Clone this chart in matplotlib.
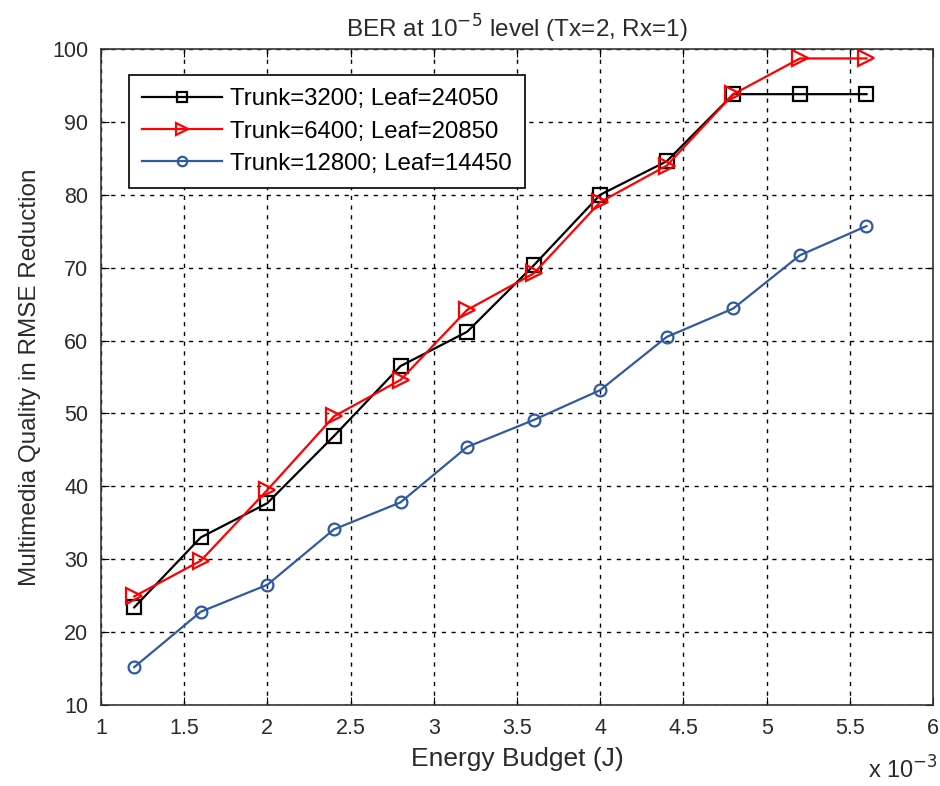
import matplotlib.pyplot as plt

plt.rcParams['font.family'] = ['Liberation Sans', 'DejaVu Sans']

# energy budget in units of 1e-3 J
energy = [1.2, 1.6, 2.0, 2.4, 2.8, 3.2, 3.6, 4.0, 4.4, 4.8, 5.2, 5.6]
trunk_3200 = [23.4, 33.0, 37.7, 46.9, 56.5, 61.2, 70.3, 80.0, 84.6, 93.8, 93.8, 93.8]
trunk_6400 = [24.9, 29.8, 39.5, 49.6, 54.6, 64.2, 69.2, 79.0, 84.0, 93.8, 98.7, 98.7]
trunk_12800 = [15.2, 22.8, 26.5, 34.1, 37.8, 45.4, 49.1, 53.2, 60.5, 64.4, 71.7, 75.7]
labels = ['Trunk=3200; Leaf=24050', 'Trunk=6400; Leaf=20850', 'Trunk=12800; Leaf=14450']

txt = '#2a2a2a'

fig = plt.figure(figsize=(9.4, 7.86), dpi=100)
ax = fig.add_axes([0.1074, 0.103, 0.8852, 0.8347])

ax.plot(energy, trunk_3200, color='black', lw=1.6, marker='s', ms=9.5,
        mfc='none', mew=1.6, label=labels[0])
ax.plot(energy, trunk_6400, color='red', lw=1.6, marker='>', ms=11,
        mfc='none', mew=1.6, label=labels[1])
ax.plot(energy, trunk_12800, color='#2f5aa3', lw=1.6, marker='o', ms=8.5,
        mfc='none', mew=1.6, label=labels[2])

ax.set_xlim(1, 6)
ax.set_ylim(10, 100)
ax.set_xticks([1, 1.5, 2, 2.5, 3, 3.5, 4, 4.5, 5, 5.5, 6])
ax.set_xticklabels(['1', '1.5', '2', '2.5', '3', '3.5', '4', '4.5', '5', '5.5', '6'])
ax.set_yticks(range(10, 101, 10))
ax.tick_params(direction='in', top=True, right=True, labelsize=15.5, length=6,
               labelcolor=txt)
ax.tick_params(axis='x', pad=9)
ax.tick_params(axis='y', pad=9)
ax.grid(True, color='black', linestyle=(0, (3, 4)), linewidth=1.0)
for s in ax.spines.values():
    s.set_linewidth(1.2)
    s.set_color('#333333')

ax.set_xlabel('Energy Budget (J)', fontsize=19, color=txt, labelpad=6)
ax.set_ylabel('Multimedia Quality in RMSE Reduction', fontsize=17.5, color=txt, labelpad=8)
ax.set_title('BER at 10$^{-5}$ level (Tx=2, Rx=1)', fontsize=17.5, color=txt, pad=8)
fig.text(0.923, 0.009, 'x 10$^{-3}$', fontsize=17, color=txt, va='baseline')

leg = ax.legend(loc='upper left', bbox_to_anchor=(0.0337, 0.960), borderaxespad=0,
                fontsize=17.3, fancybox=False, edgecolor='black', framealpha=1,
                handlelength=3.3, borderpad=0.55, labelspacing=0.42,
                handletextpad=0.35, markerscale=0.8)
leg.get_frame().set_linewidth(1.2)

plt.savefig('out.png')
